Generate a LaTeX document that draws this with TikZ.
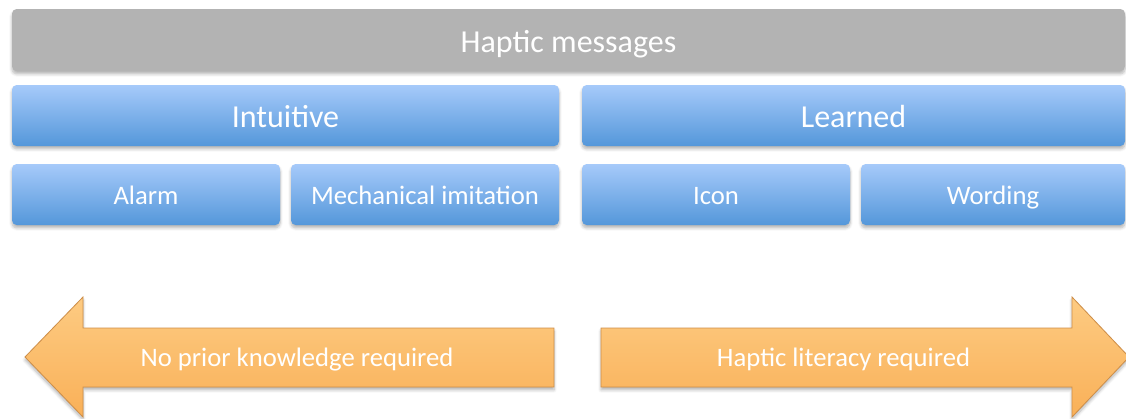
\documentclass[tikz,border=0pt]{standalone}
\usepackage{fontspec}
\setmainfont{Carlito}
\usetikzlibrary{shadows.blur}

\definecolor{boxgray}{RGB}{179,179,179}
\definecolor{bluetop}{RGB}{166,202,250}
\definecolor{bluebot}{RGB}{84,151,218}
\definecolor{orangetop}{RGB}{253,203,130}
\definecolor{orangebot}{RGB}{249,176,88}
\definecolor{orangeline}{RGB}{206,142,72}

\tikzset{every picture/.style={line width=0.75pt}}
\tikzset{
  msgbox/.style={rounded corners=3.5pt, inner sep=0pt, text=white, text depth=0pt,
    blur shadow={shadow blur steps=6, shadow xshift=0pt, shadow yshift=-2.2pt, shadow opacity=30, shadow blur radius=2.2pt}},
  graybox/.style={msgbox, fill=boxgray, minimum height=46.5pt, text height=18.5pt, font=\fontsize{24}{28}\selectfont},
  bigbox/.style={msgbox, top color=bluetop, bottom color=bluebot, minimum height=45.75pt, text height=18.5pt, font=\fontsize{24}{28}\selectfont},
  smallbox/.style={msgbox, top color=bluetop, bottom color=bluebot, minimum height=45.75pt, text height=15pt, font=\fontsize{20}{24}\selectfont},
  arrowbody/.style={top color=orangetop, bottom color=orangebot, draw=orangeline, line width=0.6pt,
    blur shadow={shadow blur steps=6, shadow xshift=0pt, shadow yshift=-2.2pt, shadow opacity=30, shadow blur radius=2.2pt}},
  arrowtext/.style={text=white, inner sep=0pt, text height=13.5pt, text depth=0pt, font=\fontsize{20}{24}\selectfont}
}

\begin{document}
\begin{tikzpicture}[x=0.75pt,y=0.75pt,yscale=-1,xscale=1]
	\useasboundingbox (0,0) rectangle (1126,418); %diagram is 1126 wide, 418 high

	%Rounded Rect: top bar
	\node [graybox, minimum width=834.75pt] (haptic) at (568.5,40) {Haptic messages};

	%Rounded Rect: second row
	\node [bigbox, minimum width=410.25pt] (intuitive) at (285.5,115.5) {Intuitive};
	\node [bigbox, minimum width=407.25pt] (learned) at (853.5,115.5) {Learned};

	%Rounded Rect: third row
	\node [smallbox, minimum width=201pt] (alarm) at (146,194.5) {Alarm};
	\node [smallbox, minimum width=201pt] (mechanical) at (425,194.5) {Mechanical imitation};
	\node [smallbox, minimum width=201pt] (icon) at (716,194.5) {Icon};
	\node [smallbox, minimum width=198pt] (wording) at (993,194.5) {Wording};

	%Shape: Left Arrow
	\draw [arrowbody] (554,328) -- (83,328) -- (83,297) -- (25,357) -- (83,417) -- (83,387) -- (554,387) -- cycle ;
	%Shape: Right Arrow
	\draw [arrowbody] (601,328) -- (1072,328) -- (1072,297) -- (1129,357) -- (1072,417) -- (1072,387) -- (601,387) -- cycle ;

	% Text Node
	\node [arrowtext] (noprior) at (297,357) {No prior knowledge required};
	% Text Node
	\node [arrowtext] (literacy) at (843.5,357) {Haptic literacy required};

\end{tikzpicture}
\end{document}
